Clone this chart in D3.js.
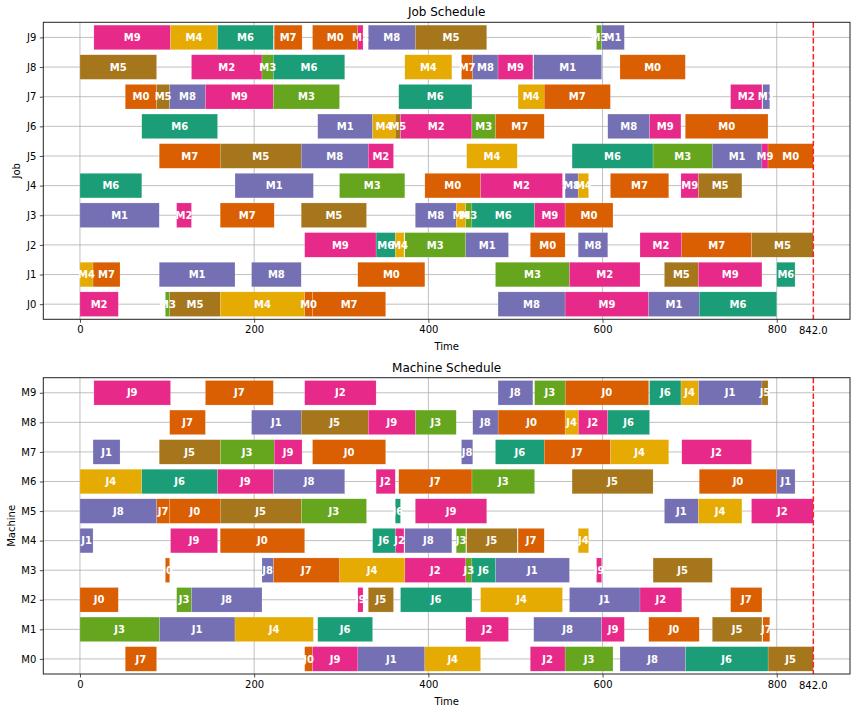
<!DOCTYPE html>
<html>
<head>
<meta charset="utf-8">
<script src="https://cdn.jsdelivr.net/npm/d3@7"></script>
<style>
    body { margin: 0; background: #fff; }
    svg text { font-family: "DejaVu Sans", sans-serif; fill: #000; }
    .grid line { stroke: #b0b0b0; stroke-width: 0.8; }
    .frame { fill: none; stroke: #222; stroke-width: 1; }
    .axis path { display: none; }
    .axis line { stroke: #222; stroke-width: 0.8; }
    .axis text { font-size: 10px; }
    .bars rect { stroke: #fff; stroke-opacity: 0.45; stroke-width: 0.4; }
    .bar-labels text { font-size: 10px; font-weight: bold; fill: #fff; }
    .title { font-size: 12px; }
    .label { font-size: 10px; }
    .makespan { stroke: #ff2020; stroke-width: 1.5; stroke-dasharray: 5.5 2.4; }
</style>
</head>
<body>
<svg id="view" width="856" height="712"></svg>
<script>
const jobNames = ['J0', 'J1', 'J2', 'J3', 'J4', 'J5', 'J6', 'J7', 'J8', 'J9'];
const machineNames = ['M0', 'M1', 'M2', 'M3', 'M4', 'M5', 'M6', 'M7', 'M8', 'M9'];

// machine order of each job
const jobRoutes = [
    [2, 3, 5, 4, 0, 7, 8, 9, 1, 6],
    [4, 7, 1, 8, 0, 3, 2, 5, 9, 6],
    [9, 6, 4, 3, 1, 0, 8, 2, 7, 5],
    [1, 2, 7, 5, 8, 4, 3, 6, 9, 0],
    [6, 1, 3, 0, 2, 8, 4, 7, 9, 5],
    [7, 5, 8, 2, 4, 6, 3, 1, 9, 0],
    [6, 1, 4, 5, 2, 3, 7, 8, 9, 0],
    [0, 5, 8, 9, 3, 6, 4, 7, 2, 1],
    [5, 2, 3, 6, 4, 7, 8, 9, 1, 0],
    [9, 4, 6, 7, 0, 2, 8, 5, 3, 1]
];

const jobDurations = [
    [44, 5, 58, 97, 9, 84, 77, 96, 58, 89],
    [15, 31, 87, 57, 77, 85, 81, 39, 73, 21],
    [82, 22, 10, 70, 49, 40, 34, 48, 80, 71],
    [91, 17, 62, 75, 47, 11, 7, 72, 35, 55],
    [71, 90, 75, 64, 94, 15, 12, 67, 20, 50],
    [70, 93, 77, 29, 58, 93, 68, 57, 7, 52],
    [87, 63, 26, 6, 82, 27, 56, 48, 36, 95],
    [36, 15, 41, 78, 76, 84, 30, 76, 36, 8],
    [88, 81, 13, 82, 54, 13, 29, 40, 78, 75],
    [88, 54, 64, 32, 52, 6, 54, 82, 6, 26]
];

const jobStarts = [
    [0, 98, 103, 161, 258, 267, 480, 557, 653, 711],
    [0, 15, 91, 197, 319, 477, 562, 671, 710, 800],
    [258, 340, 362, 373, 443, 517, 572, 643, 691, 771],
    [0, 111, 161, 254, 385, 432, 443, 450, 522, 557],
    [0, 178, 298, 396, 460, 557, 572, 609, 690, 710],
    [91, 161, 254, 331, 444, 565, 658, 726, 783, 790],
    [71, 273, 336, 362, 368, 450, 477, 606, 654, 695],
    [52, 88, 103, 144, 222, 366, 503, 533, 747, 784],
    [0, 128, 209, 222, 373, 438, 451, 480, 521, 620],
    [16, 104, 158, 223, 267, 319, 331, 385, 593, 599]
];

const makespan = 842;
const timeTicks = [0, 200, 400, 600, 800];

// Dark2, first seven colours, cycling
const palette = ['#d95f02', '#7570b3', '#e7298a', '#66a61e', '#e6ab02', '#a6761d', '#1b9e77'];

const ops = [];
jobRoutes.forEach(function(route, j) {
    route.forEach(function(m, k) {
        ops.push({
            job: j,
            machine: m,
            start: jobStarts[j][k],
            end: jobStarts[j][k] + jobDurations[j][k]
        });
    });
});

const LEFT = 43.3;
const RIGHT = 850;

const xScale = d3.scaleLinear()
    .domain([-0.05 * makespan, 1.05 * makespan])
    .range([LEFT, RIGHT]);

function drawPanel(svg, top, bottom, cfg) {
    var g = svg.append('g');
    var yScale = d3.scaleLinear()
        .domain([-0.51, 9.51])
        .range([bottom, top]);
    var barH = (yScale(0) - yScale(0.83));

    // grid
    var grid = g.append('g').attr('class', 'grid');
    grid.selectAll('line.gx')
        .data(timeTicks)
        .enter()
        .append('line')
        .attr('x1', function(d) { return xScale(d); })
        .attr('x2', function(d) { return xScale(d); })
        .attr('y1', top)
        .attr('y2', bottom);
    grid.selectAll('line.gy')
        .data(d3.range(10))
        .enter()
        .append('line')
        .attr('x1', LEFT)
        .attr('x2', RIGHT)
        .attr('y1', function(d) { return yScale(d); })
        .attr('y2', function(d) { return yScale(d); });

    // bars first, labels on top of all of them
    g.append('g')
        .attr('class', 'bars')
        .selectAll('rect')
        .data(ops)
        .enter()
        .append('rect')
        .attr('x', function(d) { return xScale(d.start); })
        .attr('y', function(d) { return yScale(d[cfg.row]) - barH / 2; })
        .attr('width', function(d) { return xScale(d.end) - xScale(d.start); })
        .attr('height', barH)
        .attr('fill', function(d) { return palette[d[cfg.label] % 7]; });

    // makespan line
    g.append('line')
        .attr('class', 'makespan')
        .attr('x1', xScale(makespan))
        .attr('x2', xScale(makespan))
        .attr('y1', top)
        .attr('y2', bottom);

    g.append('g')
        .attr('class', 'bar-labels')
        .selectAll('text')
        .data(ops)
        .enter()
        .append('text')
        .attr('x', function(d) { return xScale((d.start + d.end) / 2); })
        .attr('y', function(d) { return yScale(d[cfg.row]); })
        .attr('dy', '0.36em')
        .attr('text-anchor', 'middle')
        .text(function(d) { return cfg.labelNames[d[cfg.label]]; });

    g.append('rect')
        .attr('class', 'frame')
        .attr('x', LEFT)
        .attr('y', top)
        .attr('width', RIGHT - LEFT)
        .attr('height', bottom - top);

    g.append('g')
        .attr('class', 'axis')
        .attr('transform', 'translate(0,' + bottom + ')')
        .call(d3.axisBottom(xScale).tickValues(timeTicks).tickSize(3.5).tickPadding(3.5));
    g.append('g')
        .attr('class', 'axis')
        .attr('transform', 'translate(' + LEFT + ',0)')
        .call(d3.axisLeft(yScale).tickValues(d3.range(10)).tickSize(3.5).tickPadding(3.5)
            .tickFormat(function(d) { return cfg.rowNames[d]; }));

    g.append('text')
        .attr('class', 'label')
        .attr('x', xScale(makespan))
        .attr('y', bottom + 15)
        .attr('text-anchor', 'middle')
        .text(makespan.toFixed(1));

    g.append('text')
        .attr('class', 'title')
        .attr('x', (LEFT + RIGHT) / 2)
        .attr('y', top - 6)
        .attr('text-anchor', 'middle')
        .text(cfg.title);
    g.append('text')
        .attr('class', 'label')
        .attr('x', (LEFT + RIGHT) / 2)
        .attr('y', bottom + 30.5)
        .attr('text-anchor', 'middle')
        .text('Time');
    g.append('text')
        .attr('class', 'label')
        .attr('transform', 'translate(' + cfg.ylabelX + ',' + (top + bottom) / 2 + ') rotate(-90)')
        .attr('text-anchor', 'middle')
        .text(cfg.ylabel);
}

function init() {
    var svg = d3.select('svg#view');

    drawPanel(svg, 22.3, 319.3, {
        row: 'job', label: 'machine',
        rowNames: jobNames, labelNames: machineNames,
        title: 'Job Schedule', ylabel: 'Job', ylabelX: 19.5
    });
    drawPanel(svg, 377.7, 674, {
        row: 'machine', label: 'job',
        rowNames: machineNames, labelNames: jobNames,
        title: 'Machine Schedule', ylabel: 'Machine', ylabelX: 15
    });
}

init();
</script>
</body>
</html>
